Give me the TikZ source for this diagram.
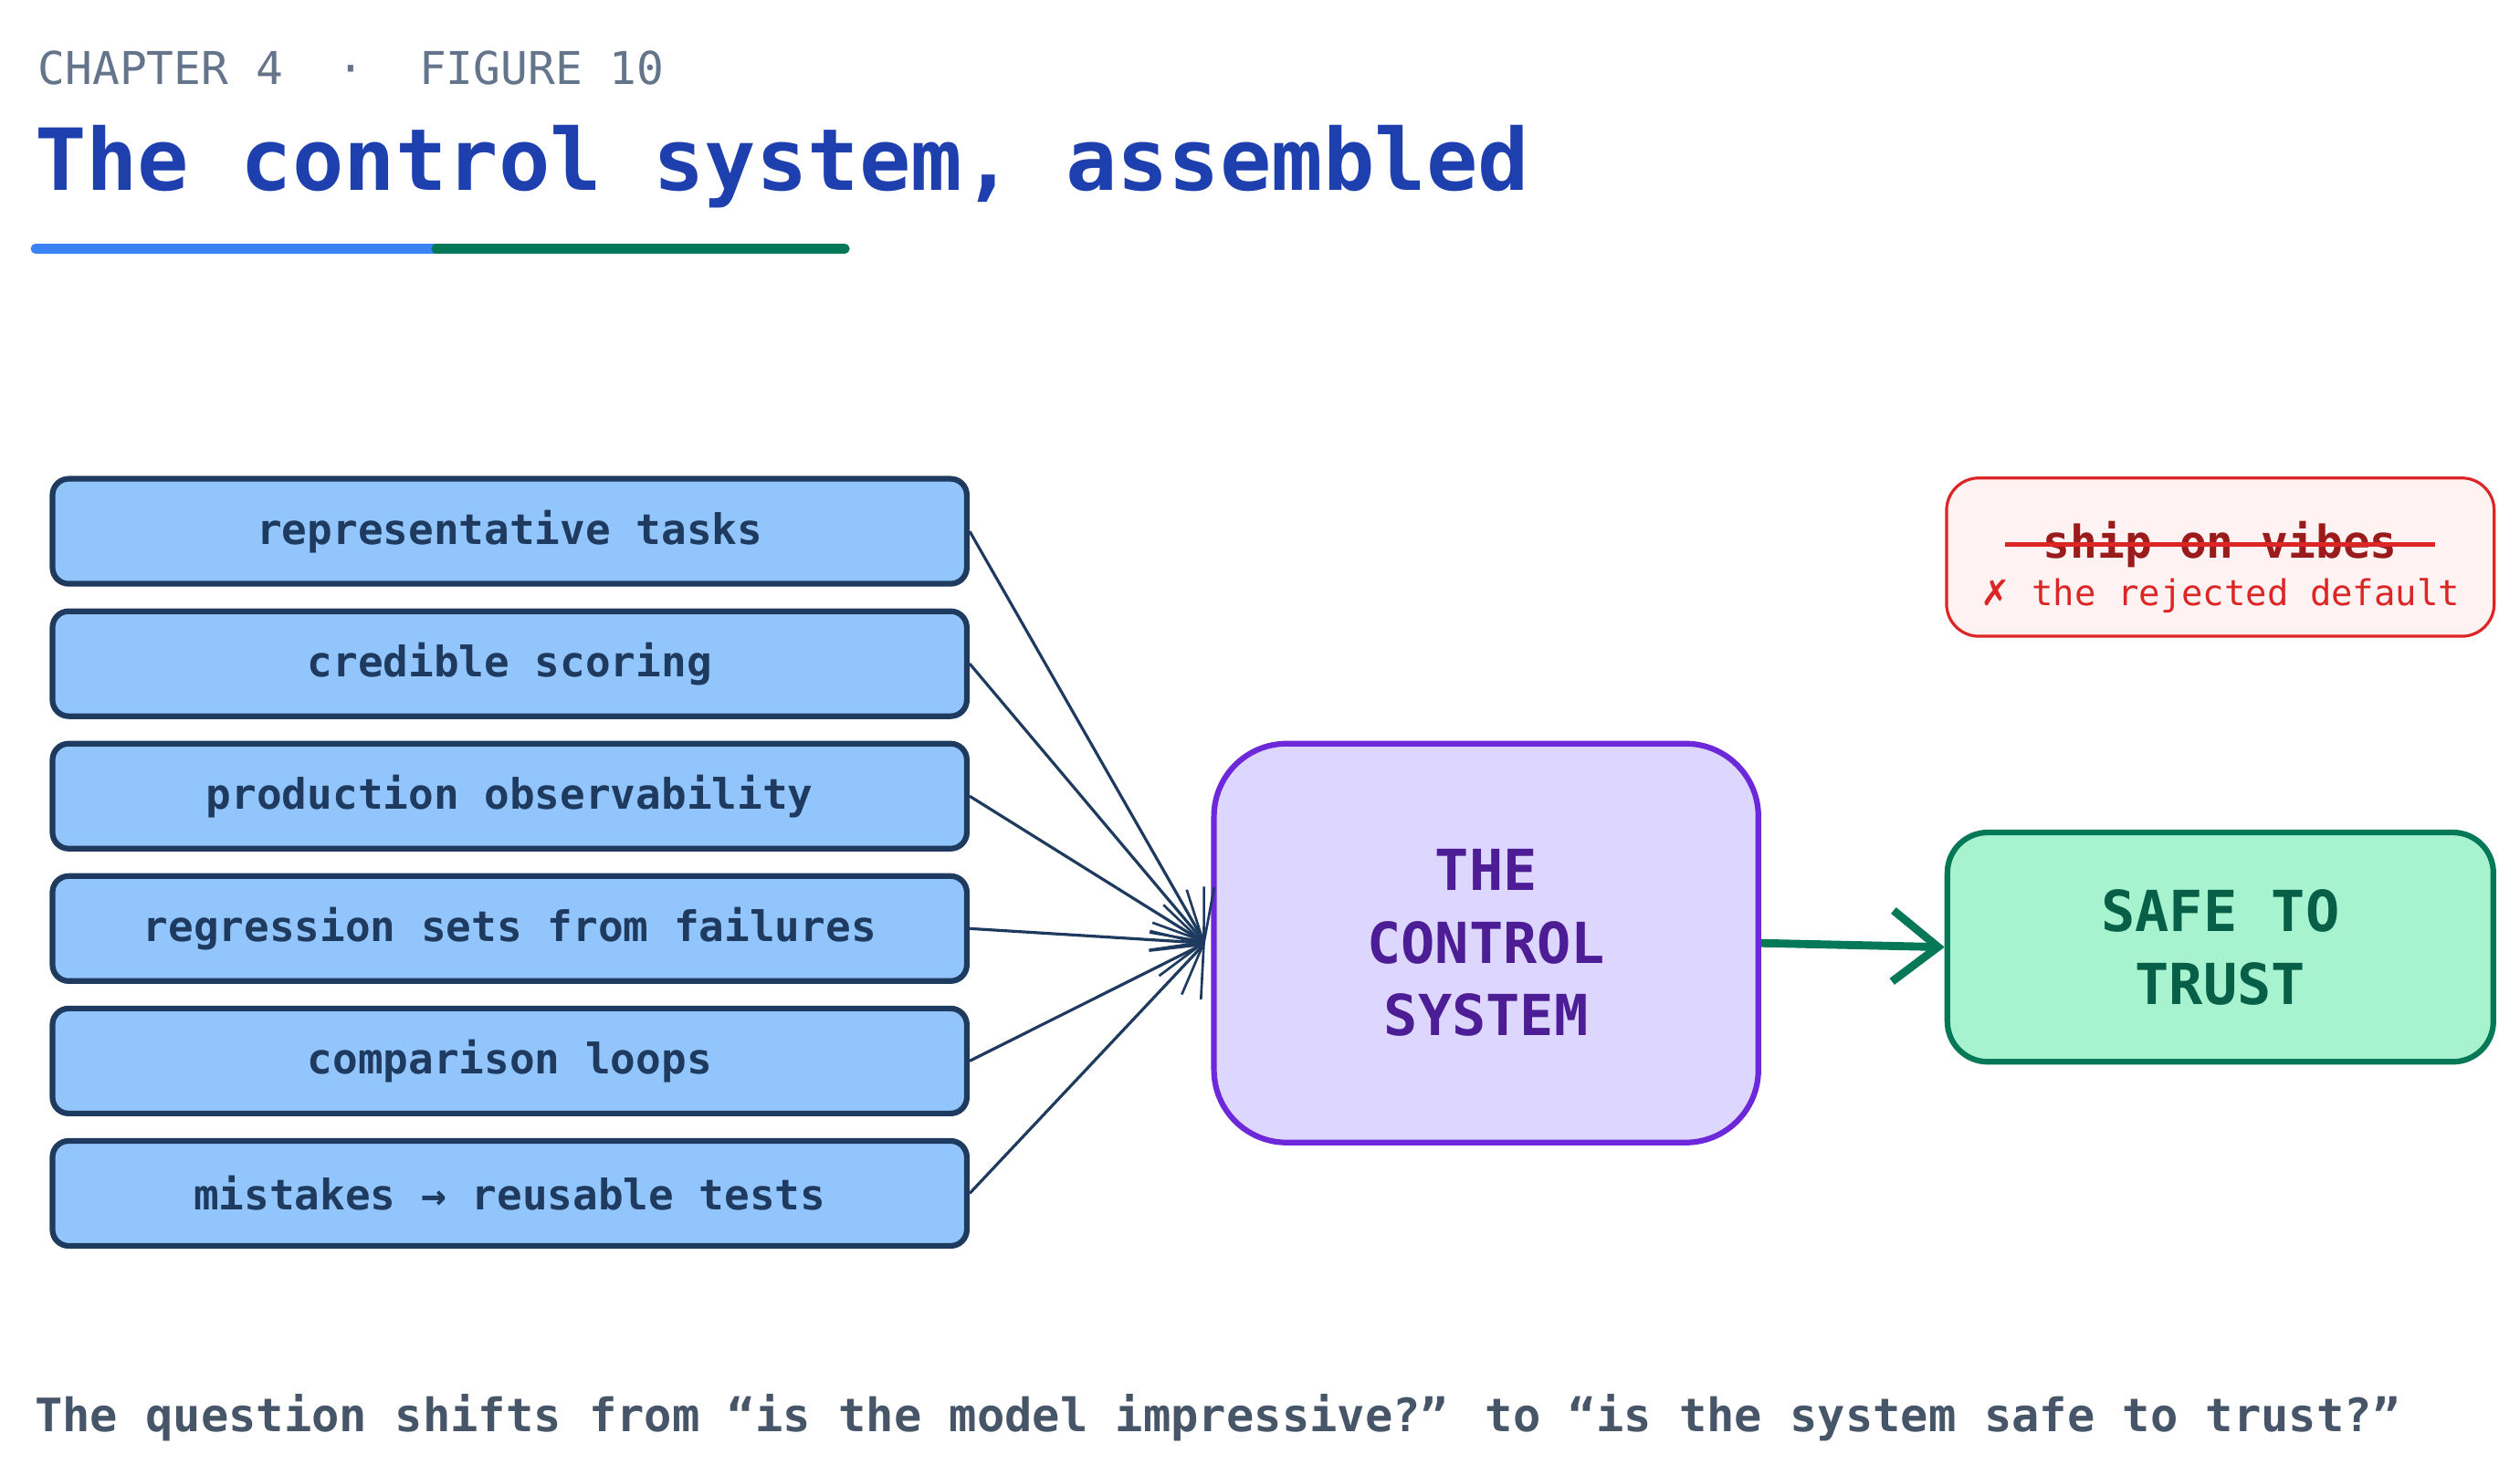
\documentclass[tikz,border=0pt]{standalone}
\usepackage{fontspec}
\setmainfont{DejaVu Sans Mono}
\newfontfamily\symf{DejaVu Sans}
\usetikzlibrary{arrows.meta}
\definecolor{navy}{HTML}{1E3A5F}
\definecolor{lblue}{HTML}{93C5FD}
\definecolor{purp}{HTML}{6D28D9}
\definecolor{lpurp}{HTML}{DDD6FE}
\definecolor{dpurp}{HTML}{4C1D95}
\definecolor{grn}{HTML}{047857}
\definecolor{lgrn}{HTML}{A7F3D0}
\definecolor{dgrn}{HTML}{065F46}
\definecolor{rd}{HTML}{DC2626}
\definecolor{drd}{HTML}{991B1B}
\definecolor{lrd}{HTML}{FEF2F2}
\definecolor{hdr}{HTML}{64748B}
\definecolor{ttl}{HTML}{1E40AF}
\definecolor{cap}{HTML}{475569}
\begin{document}
\begin{tikzpicture}[x=1pt,y=-1pt,
 inp/.style={draw=navy,fill=lblue,line width=3.5pt,rounded corners=10pt,minimum width=566pt,minimum height=65pt,text=navy,font=\fontsize{26}{30}\selectfont\bfseries},
 feed/.style={navy,line width=1.8pt,-{Straight Barb[length=26pt,width=44pt,line width=1.5pt]}}]
\useasboundingbox (0,0) rectangle (1560,913);
\fill[white] (0,0) rectangle (1560,913);
\node[anchor=west,text=hdr,font=\fontsize{28}{32}\selectfont] (hd) at (20,42) {CHAPTER 4 \ · \ FIGURE 10};
\node[anchor=west,text=ttl,font=\fontsize{53}{60}\selectfont\bfseries] (tt) at (18,103) {The control system, assembled};
\draw[line width=6pt,line cap=round,color={rgb,255:red,59;green,130;blue,246}] (22,154) -- (270,154);
\draw[line width=6pt,line cap=round,grn] (270,154) -- (523,154);
\node[inp] (a) at (315.5,329) {representative tasks};
\node[inp] (b) at (315.5,411) {credible scoring};
\node[inp] (c) at (315.5,493) {production observability};
\node[inp] (d) at (315.5,575) {regression sets from failures};
\node[inp] (e) at (315.5,657) {comparison loops};
\node[inp] (f) at (315.5,739) {mistakes → reusable tests};
\node[draw=purp,fill=lpurp,line width=3.5pt,rounded corners=45pt,minimum width=337pt,minimum height=247pt,text=dpurp,align=center,font=\fontsize{35}{45}\selectfont\bfseries] (cs) at (920,584) {THE\\CONTROL\\SYSTEM};
\node[draw=grn,fill=lgrn,line width=3.5pt,rounded corners=25pt,minimum width=338pt,minimum height=142pt,text=dgrn,align=center,font=\fontsize{35}{45}\selectfont\bfseries] (st) at (1374.5,586.5) {SAFE TO\\TRUST};
\node[draw=rd,fill=lrd,line width=1.8pt,rounded corners=20pt,minimum width=339pt,minimum height=98pt] (rj) at (1374.5,345) {};
\node[text=drd,font=\fontsize{28}{32}\selectfont\bfseries] (sv) at (1374.5,337) {ship on vibes};
\draw[rd,line width=3pt] (sv.west) ++(-20,0) -- ([xshift=20pt]sv.east);
\node[text=rd,font=\fontsize{22}{26}\selectfont] (rt) at (1374.5,369) {{\symf ✗} the rejected default};
\coordinate (hub) at (746,584);
\foreach \n in {a,b,c,d,e,f} \draw[feed] (\n.east) -- (hub);
\draw[grn,line width=5pt,-{Straight Barb[length=28pt,width=44pt,line width=5pt]}] (cs.east) -- (st.west);
\node[anchor=west,text=cap,font=\fontsize{28.5}{34}\selectfont\bfseries] (cp) at (18,878) {The question shifts from “is the model impressive?” to “is the system safe to trust?”};
\end{tikzpicture}
\end{document}
